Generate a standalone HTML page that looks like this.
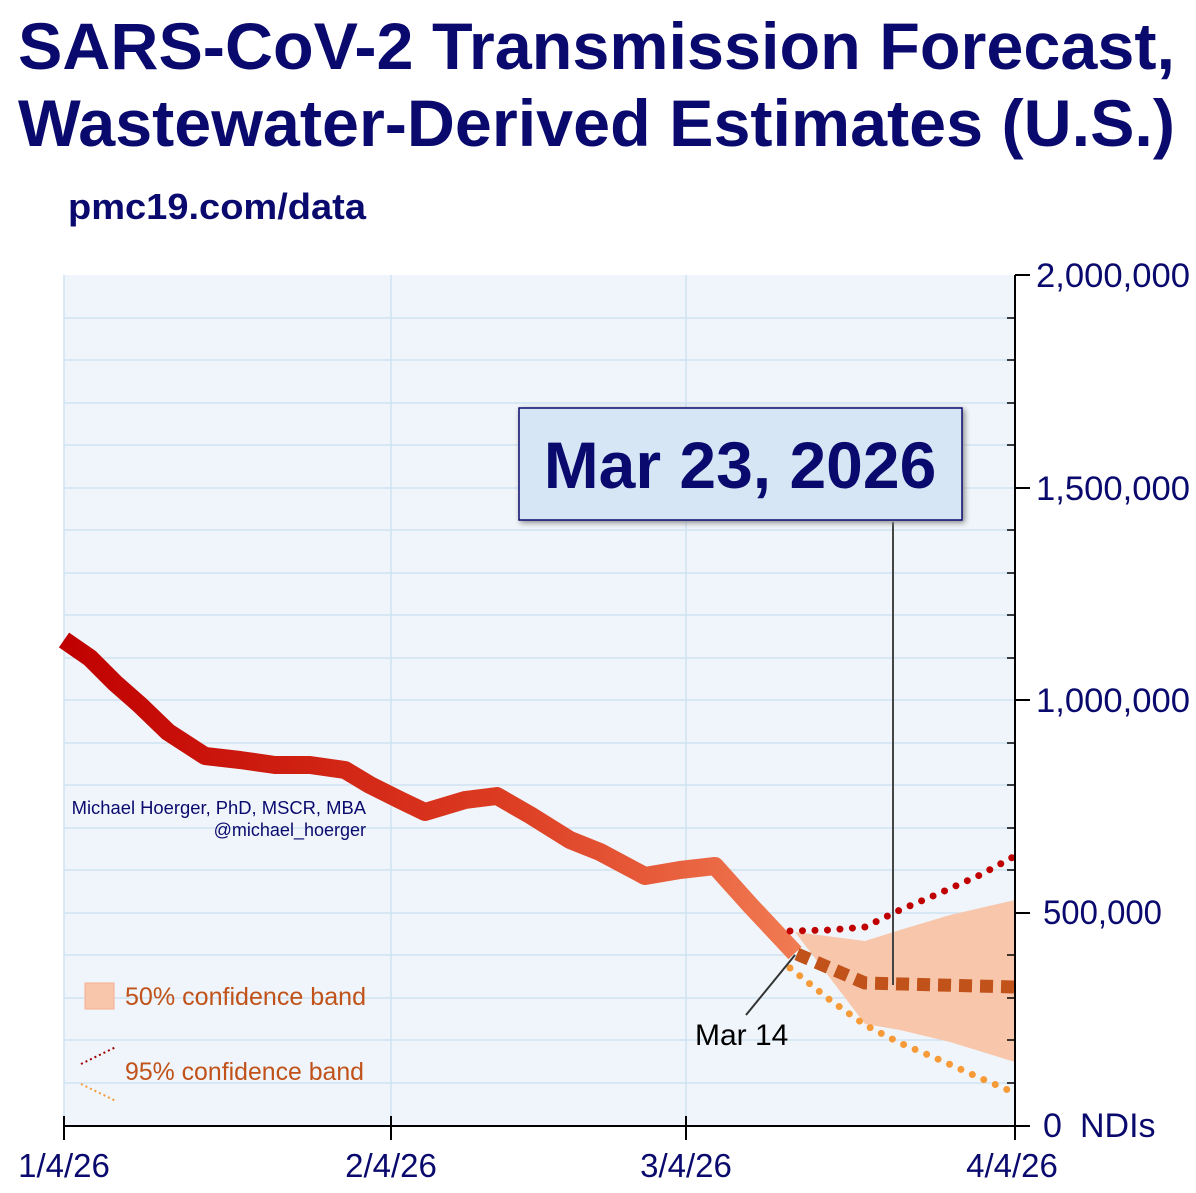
<!DOCTYPE html>
<html><head><style>body{margin:0;background:#fff;}svg text{font-family:"Liberation Sans",Arial,sans-serif;}</style></head>
<body>
<svg width="1196" height="1188" viewBox="0 0 1196 1188" xmlns="http://www.w3.org/2000/svg">
<defs>
<linearGradient id="g" x1="64" y1="0" x2="795" y2="0" gradientUnits="userSpaceOnUse">
<stop offset="0" stop-color="#c00000"/><stop offset="0.6" stop-color="#dc3c22"/><stop offset="1" stop-color="#f07a52"/></linearGradient>
</defs>
<text x="18" y="69" font-size="66" font-weight="bold" fill="#0a0a6e" textLength="1157" lengthAdjust="spacingAndGlyphs">SARS-CoV-2 Transmission Forecast,</text>
<text x="18" y="146" font-size="66" font-weight="bold" fill="#0a0a6e" textLength="1157" lengthAdjust="spacingAndGlyphs">Wastewater-Derived Estimates (U.S.)</text>
<text x="68" y="219" font-size="36" font-weight="bold" fill="#0a0a6e" textLength="298" lengthAdjust="spacingAndGlyphs">pmc19.com/data</text>
<rect x="64" y="275" width="951" height="851" fill="#eff5fa"/>
<g stroke="#cfe3f2" stroke-width="1.5">
<line x1="64" x2="1015" y1="318" y2="318"/><line x1="64" x2="1015" y1="360" y2="360"/><line x1="64" x2="1015" y1="403" y2="403"/><line x1="64" x2="1015" y1="445" y2="445"/><line x1="64" x2="1015" y1="488" y2="488"/><line x1="64" x2="1015" y1="530" y2="530"/><line x1="64" x2="1015" y1="573" y2="573"/><line x1="64" x2="1015" y1="615" y2="615"/><line x1="64" x2="1015" y1="658" y2="658"/><line x1="64" x2="1015" y1="700" y2="700"/><line x1="64" x2="1015" y1="743" y2="743"/><line x1="64" x2="1015" y1="785" y2="785"/><line x1="64" x2="1015" y1="828" y2="828"/><line x1="64" x2="1015" y1="870" y2="870"/><line x1="64" x2="1015" y1="913" y2="913"/><line x1="64" x2="1015" y1="955" y2="955"/><line x1="64" x2="1015" y1="998" y2="998"/><line x1="64" x2="1015" y1="1040" y2="1040"/><line x1="64" x2="1015" y1="1083" y2="1083"/>
<line x1="64" x2="64" y1="275" y2="1126"/><line x1="391" x2="391" y1="275" y2="1126"/><line x1="686" x2="686" y1="275" y2="1126"/>
</g>
<polygon points="795,932 865,941 900,930 950,915 1015,900 1015,1062 950,1042 900,1030 865,1024" fill="#f7c6ab"/>
<polyline points="64,640 90,658 115,683 140,705 168,732 205,756 240,760 275,765 310,765 345,770 370,785 400,800 425,812 465,800 497,796 530,815 570,840 600,852 645,876 680,870 715,866 750,905 795,953" fill="none" stroke="url(#g)" stroke-width="18" stroke-linejoin="round"/>
<polyline points="790,931 830,930 865,927 900,910 940,893 980,875 1015,856" fill="none" stroke="#c00000" stroke-width="7" stroke-linecap="round" stroke-dasharray="0 12.5"/>
<polyline points="790,968 830,1000 865,1025 900,1043 940,1060 980,1078 1015,1093" fill="none" stroke="#f79a38" stroke-width="7" stroke-linecap="round" stroke-dasharray="0 12.5"/>
<polyline points="797,954 865,983 1015,987" fill="none" stroke="#c0521a" stroke-width="13" stroke-dasharray="13 8"/>
<line x1="893" y1="522" x2="893" y2="985" stroke="#444" stroke-width="2"/>
<line x1="795" y1="955" x2="746" y2="1015" stroke="#333" stroke-width="2"/>
<text x="695" y="1045" font-size="30" fill="#000">Mar 14</text>
<rect x="519" y="408" width="443" height="112" fill="#d7e6f4" stroke="#0a0a6e" stroke-width="1.5" style="filter:drop-shadow(2px 2px 3px #888)"/>
<text x="740" y="488" font-size="66" font-weight="bold" fill="#0a0a6e" text-anchor="middle">Mar 23, 2026</text>
<text x="366" y="814" font-size="18.4" fill="#0a0a6e" text-anchor="end">Michael Hoerger, PhD, MSCR, MBA</text>
<text x="366" y="836" font-size="18" fill="#0a0a6e" text-anchor="end">@michael_hoerger</text>
<rect x="85" y="983" width="29" height="26" fill="#f7c6ab" stroke="#f5b090"/>
<text x="125" y="1005" font-size="25" fill="#c0521a" textLength="241" lengthAdjust="spacingAndGlyphs">50% confidence band</text>
<line x1="81" y1="1064" x2="116" y2="1047" stroke="#a00000" stroke-width="2" stroke-dasharray="2 3"/>
<line x1="81" y1="1084" x2="116" y2="1101" stroke="#f79a38" stroke-width="2" stroke-dasharray="2 3"/>
<text x="125" y="1080" font-size="25" fill="#c0521a" textLength="239" lengthAdjust="spacingAndGlyphs">95% confidence band</text>
<g stroke="#000" stroke-width="2">
<line x1="1015" y1="275" x2="1015" y2="1140"/><line x1="64" y1="1126" x2="1030" y2="1126"/>
<line x1="1015" x2="1030" y1="275" y2="275"/><line x1="1015" x2="1030" y1="488" y2="488"/><line x1="1015" x2="1030" y1="700" y2="700"/><line x1="1015" x2="1030" y1="913" y2="913"/>
<line x1="64" x2="64" y1="1116" y2="1140"/><line x1="391" x2="391" y1="1116" y2="1140"/><line x1="686" x2="686" y1="1116" y2="1140"/>
</g>
<g stroke="#000" stroke-width="1.5">
<line x1="1007" x2="1015" y1="318" y2="318"/><line x1="1007" x2="1015" y1="360" y2="360"/><line x1="1007" x2="1015" y1="403" y2="403"/><line x1="1007" x2="1015" y1="445" y2="445"/><line x1="1007" x2="1015" y1="530" y2="530"/><line x1="1007" x2="1015" y1="573" y2="573"/><line x1="1007" x2="1015" y1="615" y2="615"/><line x1="1007" x2="1015" y1="658" y2="658"/><line x1="1007" x2="1015" y1="743" y2="743"/><line x1="1007" x2="1015" y1="785" y2="785"/><line x1="1007" x2="1015" y1="828" y2="828"/><line x1="1007" x2="1015" y1="870" y2="870"/><line x1="1007" x2="1015" y1="955" y2="955"/><line x1="1007" x2="1015" y1="998" y2="998"/><line x1="1007" x2="1015" y1="1040" y2="1040"/><line x1="1007" x2="1015" y1="1083" y2="1083"/>
</g>
<g font-size="34" fill="#0a0a6e">
<text x="1036" y="287" textLength="154" lengthAdjust="spacingAndGlyphs">2,000,000</text><text x="1036" y="500" textLength="154" lengthAdjust="spacingAndGlyphs">1,500,000</text><text x="1036" y="712" textLength="154" lengthAdjust="spacingAndGlyphs">1,000,000</text><text x="1043" y="924" textLength="119" lengthAdjust="spacingAndGlyphs">500,000</text><text x="1043" y="1137">0</text><text x="1080" y="1137">NDIs</text>
</g>
<g font-size="33" fill="#0a0a6e">
<text x="64" y="1177" text-anchor="middle">1/4/26</text><text x="391" y="1177" text-anchor="middle">2/4/26</text><text x="686" y="1177" text-anchor="middle">3/4/26</text><text x="1012" y="1177" text-anchor="middle">4/4/26</text>
</g>
</svg>
</body></html>
